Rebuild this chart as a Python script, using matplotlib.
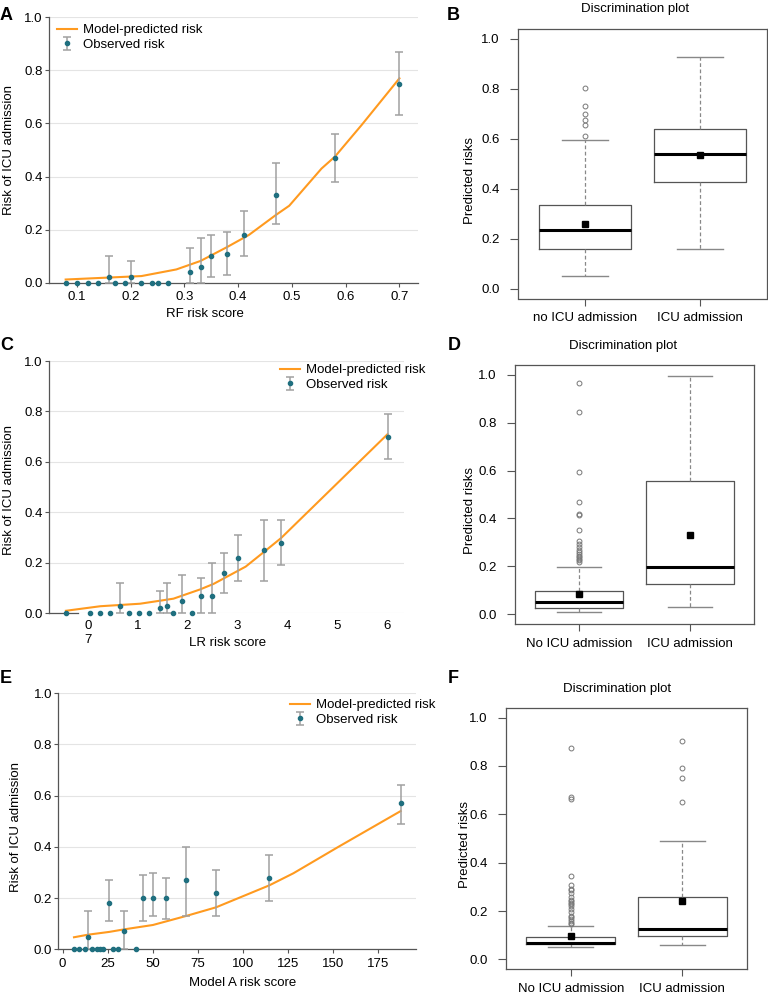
import numpy as np
import matplotlib.pyplot as plt

plt.rcParams['font.family'] = ['Liberation Sans', 'DejaVu Sans']

W, H = 768, 994
ORANGE = '#FF9A1F'
TEAL = '#1F6F7F'
EGRAY = '#A0A0A0'
SPINE = '#555555'
FS = 9.5

# ---- calibration data (A: RF, C: LR, E: Model A) ----
A_x = [0.079, 0.10, 0.12, 0.14, 0.16, 0.17, 0.19, 0.20, 0.22, 0.24, 0.25, 0.27,
       0.31, 0.33, 0.35, 0.38, 0.41, 0.47, 0.58, 0.70]
A_obs = [0, 0, 0, 0, 0.02, 0, 0, 0.02, 0, 0, 0, 0, 0.04, 0.06, 0.10, 0.11, 0.18, 0.33, 0.47, 0.75]
A_lo = [0, 0, 0, 0, 0, 0, 0, 0, 0, 0, 0, 0, 0, 0, 0.02, 0.03, 0.10, 0.22, 0.38, 0.63]
A_hi = [0, 0, 0, 0, 0.10, 0, 0, 0.08, 0, 0, 0, 0, 0.13, 0.17, 0.18, 0.19, 0.27, 0.45, 0.56, 0.87]
A_line_x = [0.079, 0.22, 0.285, 0.33, 0.38, 0.42, 0.47, 0.495, 0.555, 0.58, 0.63, 0.70]
A_line_y = [0.012, 0.025, 0.05, 0.082, 0.135, 0.18, 0.255, 0.29, 0.43, 0.475, 0.595, 0.77]

C_x = [-0.44, 0.05, 0.25, 0.45, 0.65, 0.82, 1.02, 1.22, 1.45, 1.59, 1.72, 1.90,
       2.10, 2.28, 2.50, 2.73, 3.02, 3.53, 3.88, 6.02]
C_obs = [0, 0, 0, 0, 0.03, 0, 0, 0, 0.02, 0.03, 0, 0.05, 0, 0.07, 0.07, 0.16, 0.22, 0.25, 0.28, 0.70]
C_lo = [0, 0, 0, 0, 0, 0, 0, 0, 0, 0, 0, 0, 0, 0, 0, 0.08, 0.13, 0.13, 0.19, 0.61]
C_hi = [0, 0, 0, 0, 0.12, 0, 0, 0, 0.09, 0.12, 0, 0.15, 0, 0.14, 0.20, 0.24, 0.31, 0.37, 0.37, 0.79]
C_line_x = [-0.44, 0.25, 1.05, 1.72, 2.26, 2.53, 3.17, 3.53, 3.88, 6.02]
C_line_y = [0.01, 0.028, 0.038, 0.058, 0.095, 0.117, 0.185, 0.242, 0.298, 0.71]
C_ticks = [0, 1, 2, 3, 4, 5, 6]
C_ticklabels = ['0\n7', '1', '2', '3', '4', '5', '6']

E_x = [6.3, 9.2, 12.2, 14.0, 16.1, 18.8, 20.5, 22.2, 25.9, 27.7, 30.5, 34.2,
       40.7, 44.7, 50.1, 57.3, 68.4, 85.1, 114.7, 187.5]
E_obs = [0, 0, 0, 0.05, 0, 0, 0, 0, 0.18, 0, 0, 0.07, 0, 0.20, 0.20, 0.20, 0.27, 0.22, 0.28, 0.57]
E_lo = [0, 0, 0, 0, 0, 0, 0, 0, 0.11, 0, 0, 0, 0, 0.11, 0.13, 0.12, 0.13, 0.13, 0.19, 0.49]
E_hi = [0, 0, 0, 0.15, 0, 0, 0, 0, 0.27, 0, 0, 0.15, 0, 0.29, 0.30, 0.28, 0.40, 0.31, 0.37, 0.64]
E_line_x = [6.3, 14.0, 25.9, 34.2, 50.1, 68.4, 85.1, 114.7, 128, 152.9, 187.5]
E_line_y = [0.047, 0.057, 0.068, 0.078, 0.095, 0.13, 0.164, 0.25, 0.297, 0.40, 0.54]

# ---- discrimination data (B, D, F) ----
B_labels = ['no ICU admission', 'ICU admission']
B_med = [0.233, 0.541]
B_q1 = [0.16, 0.427]
B_q3 = [0.335, 0.64]
B_whislo = [0.05, 0.16]
B_whishi = [0.595, 0.928]
B_mean = [0.257, 0.537]
B_fliers = [[0.613, 0.656, 0.677, 0.701, 0.731, 0.804], []]

D_labels = ['No ICU admission', 'ICU admission']
D_med = [0.053, 0.197]
D_q1 = [0.028, 0.125]
D_q3 = [0.097, 0.556]
D_whislo = [0.008, 0.031]
D_whishi = [0.196, 0.993]
D_mean = [0.085, 0.33]
D_fliers = [[0.22, 0.225, 0.23, 0.24, 0.245, 0.25, 0.26, 0.27, 0.28, 0.295, 0.305,
             0.35, 0.415, 0.42, 0.47, 0.594, 0.844, 0.965], []]

F_labels = ['No ICU admission', 'ICU admission']
F_med = [0.068, 0.126]
F_q1 = [0.063, 0.095]
F_q3 = [0.094, 0.26]
F_whislo = [0.05, 0.058]
F_whishi = [0.14, 0.489]
F_mean = [0.095, 0.242]
F_fliers = [[0.145, 0.15, 0.16, 0.165, 0.175, 0.18, 0.195, 0.21, 0.22, 0.23, 0.235,
             0.24, 0.245, 0.26, 0.275, 0.285, 0.29, 0.306, 0.345, 0.665, 0.67, 0.875],
            [0.653, 0.751, 0.793, 0.905]]


def px_rect(left, top, right, bottom):
    return [left / W, 1 - bottom / H, (right - left) / W, (bottom - top) / H]


fig = plt.figure(figsize=(W / 100, H / 100), dpi=100)


def ftext(x, y, s, **kw):
    fig.text(x / W, 1 - y / H, s, **kw)


def calib(rect, x, obs, lo, hi, lx, ly, xlim, legend_xy, short_bottom=False):
    ax = fig.add_axes(px_rect(*rect))
    x, obs, lo, hi = map(np.asarray, (x, obs, lo, hi))
    ax.set_xlim(xlim)
    ax.set_ylim(0, 1)
    ax.set_yticks(np.arange(0, 1.01, 0.2))
    ax.set_yticklabels([f'{v:.1f}' for v in np.arange(0, 1.01, 0.2)])
    ax.yaxis.grid(True, color='#e4e4e4', lw=0.8)
    ax.set_axisbelow(True)
    for s in ['top', 'right']:
        ax.spines[s].set_visible(False)
    for s in ['left', 'bottom']:
        ax.spines[s].set_color(SPINE)
        ax.spines[s].set_linewidth(0.9)
    if short_bottom:
        ax.spines['bottom'].set_bounds(xlim[0], -0.2)
        ax.tick_params(axis='x', length=0, pad=5)
    else:
        ax.tick_params(axis='x', length=3, pad=3, color=SPINE)
    ax.tick_params(axis='y', length=3, pad=1.5, color=SPINE)
    ax.tick_params(labelsize=FS)

    line, = ax.plot(lx, ly, color=ORANGE, lw=1.5, zorder=3)
    has = hi > lo
    eb = ax.errorbar(x[has], obs[has], yerr=[obs[has] - lo[has], hi[has] - obs[has]],
                     fmt='o', ms=3, color=TEAL, ecolor=EGRAY, elinewidth=1.1,
                     capsize=3, capthick=1.1, zorder=4)
    for art in [eb[0], *eb[1], *eb[2]]:
        art.set_clip_on(False)
    ax.plot(x[~has], obs[~has], 'o', ms=3, color=TEAL, clip_on=False, zorder=4)
    ax.legend([line, eb], ['Model-predicted risk', 'Observed risk'], loc='upper left',
              bbox_to_anchor=(legend_xy[0] / W, 1 - legend_xy[1] / H),
              bbox_transform=fig.transFigure, frameon=False, borderpad=0,
              borderaxespad=0, handlelength=1.5, handletextpad=0.5,
              labelspacing=0.2, fontsize=FS)
    return ax


def discrim(rect, labels, med, q1, q3, wlo, whi, mean, fliers):
    ax = fig.add_axes(px_rect(*rect))
    stats = []
    for i in range(len(labels)):
        stats.append(dict(med=med[i], q1=q1[i], q3=q3[i], whislo=wlo[i],
                          whishi=whi[i], mean=mean[i], fliers=fliers[i]))
    ax.bxp(stats, positions=[1, 2], widths=0.8, capwidths=0.4, showmeans=True,
           boxprops=dict(color=SPINE, lw=0.9),
           whiskerprops=dict(color='#888888', lw=0.9, ls=(0, (3, 2))),
           capprops=dict(color='#888888', lw=1.0),
           medianprops=dict(color='black', lw=2.2),
           meanprops=dict(marker='s', markerfacecolor='black',
                          markeredgecolor='black', markersize=4),
           flierprops=dict(marker='o', markerfacecolor='none',
                           markeredgecolor='#777777', markersize=3.5,
                           markeredgewidth=0.7))
    ax.set_xlim(0.42, 2.58)
    ax.set_ylim(-0.04, 1.04)
    ax.set_yticks(np.arange(0, 1.01, 0.2))
    ax.set_yticklabels([f'{v:.1f}' for v in np.arange(0, 1.01, 0.2)])
    ax.set_xticks([1, 2])
    ax.set_xticklabels(labels)
    for s in ax.spines.values():
        s.set_color(SPINE)
        s.set_linewidth(0.9)
    ax.tick_params(axis='y', length=6, pad=7, color=SPINE, labelsize=FS)
    ax.tick_params(axis='x', length=5, pad=5, color=SPINE, labelsize=FS)
    return ax


# A
calib((49, 17.3, 417.7, 282.7), A_x, A_obs, A_lo, A_hi, A_line_x, A_line_y,
      (0.048, 0.734), (57, 24))
ftext(205, 314, 'RF risk score', ha='center', va='center', fontsize=FS)
ftext(9, 150, 'Risk of ICU admission', ha='center', va='center', rotation=90, fontsize=FS)

# C
axC = calib((49, 361, 404, 613.3), C_x, C_obs, C_lo, C_hi, C_line_x, C_line_y,
            (-0.78, 6.35), (280, 364), short_bottom=True)
axC.set_xticks(C_ticks)
axC.set_xticklabels(C_ticklabels)
ftext(228, 643, 'LR risk score', ha='center', va='center', fontsize=FS)
ftext(9, 490, 'Risk of ICU admission', ha='center', va='center', rotation=90, fontsize=FS)

# E
axE = calib((58.3, 693.3, 416, 949.3), E_x, E_obs, E_lo, E_hi, E_line_x, E_line_y,
            (-2.4, 196), (290, 699))
axE.set_xticks(np.arange(0, 176, 25))
ftext(243, 983, 'Model A risk score', ha='center', va='center', fontsize=FS)
ftext(16, 827, 'Risk of ICU admission', ha='center', va='center', rotation=90, fontsize=FS)

# B, D, F
discrim((518, 29, 767, 298.5), B_labels, B_med, B_q1, B_q3, B_whislo, B_whishi, B_mean, B_fliers)
discrim((515, 365, 754, 624), D_labels, D_med, D_q1, D_q3, D_whislo, D_whishi, D_mean, D_fliers)
discrim((506, 708, 747, 969), F_labels, F_med, F_q1, F_q3, F_whislo, F_whishi, F_mean, F_fliers)
for (x, y) in [(635, 9), (623, 346), (617, 689)]:
    ftext(x, y, 'Discrimination plot', ha='center', va='center', fontsize=FS)
for (x, y) in [(470, 180), (470, 510), (465, 845)]:
    ftext(x, y, 'Predicted risks', ha='center', va='center', rotation=90, fontsize=FS)

# panel letters
for (x, y, s) in [(0, 7, 'A'), (447, 7, 'B'), (0, 337, 'C'),
                  (448, 337, 'D'), (0, 670, 'E'), (448, 670, 'F')]:
    ftext(x, y, s, ha='left', va='top', fontsize=13, fontweight='bold')

fig.savefig('out.png', dpi=100)
